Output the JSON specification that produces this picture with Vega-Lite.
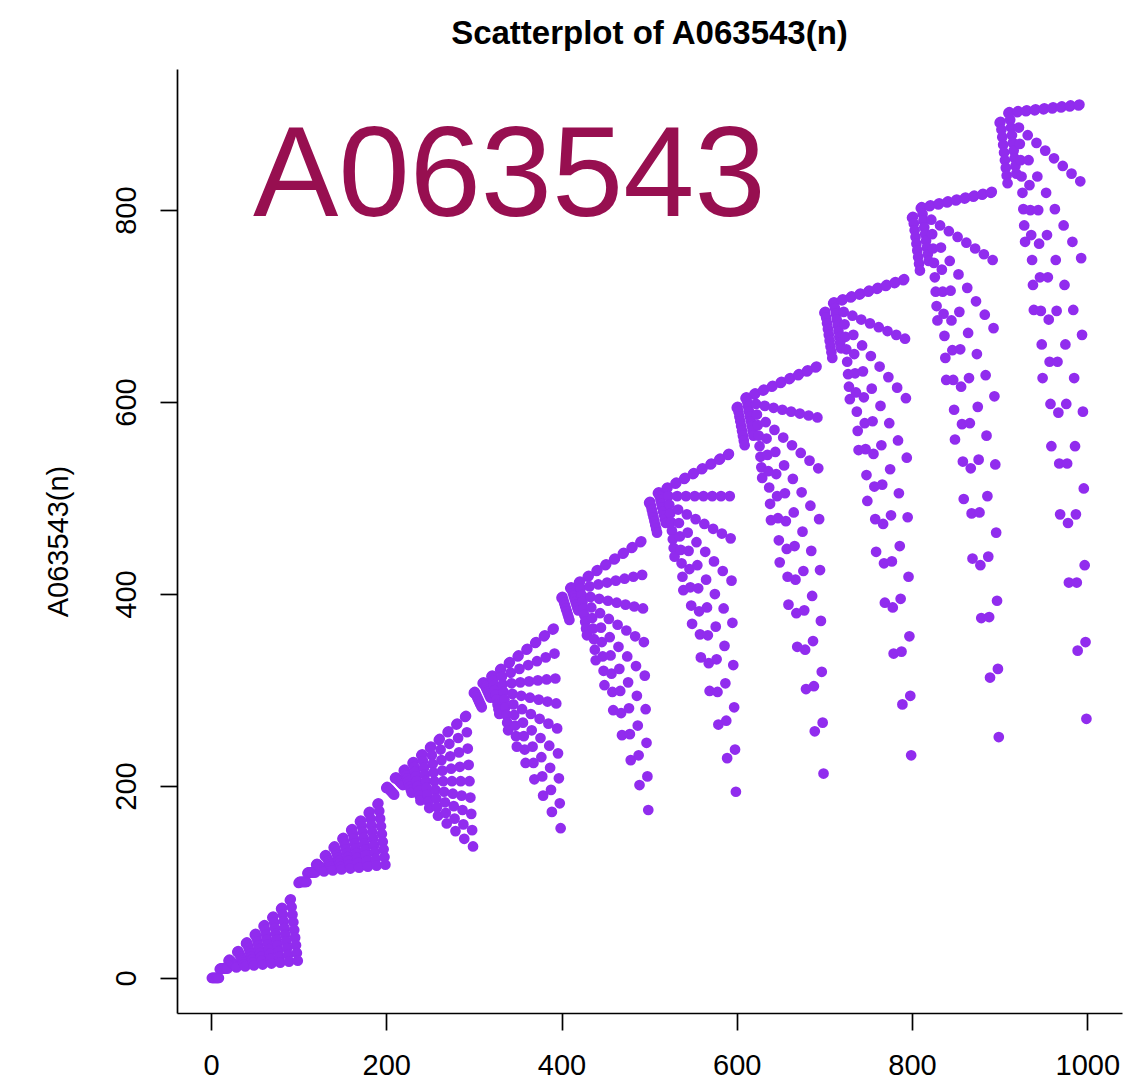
{"$schema":"https://vega.github.io/schema/vega-lite/v6.json","width":945,"height":944,"autosize":{"type":"none"},"padding":{"left":177,"top":69,"right":1,"bottom":65},"background":"white","config":{"view":{"stroke":null},"font":"Liberation Sans"},"title":{"text":"Scatterplot of A063543(n)","font":"Liberation Sans","fontWeight":"bold","fontSize":33,"color":"black","anchor":"middle","offset":18},
"layer":[{"data":{"values":[
{"n":1,"a":0},{"n":2,"a":0},{"n":3,"a":0},{"n":4,"a":0},{"n":5,"a":0},{"n":6,"a":0},{"n":7,"a":0},{"n":8,"a":0},{"n":9,"a":0},
{"n":10,"a":9},{"n":11,"a":10},{"n":12,"a":10},{"n":13,"a":10},{"n":14,"a":10},{"n":15,"a":10},{"n":16,"a":10},{"n":17,"a":10},{"n":18,"a":10},{"n":19,"a":10},
{"n":20,"a":18},{"n":21,"a":19},{"n":22,"a":18},{"n":23,"a":17},{"n":24,"a":16},{"n":25,"a":15},{"n":26,"a":14},{"n":27,"a":13},{"n":28,"a":12},{"n":29,"a":11},
{"n":30,"a":27},{"n":31,"a":28},{"n":32,"a":26},{"n":33,"a":24},{"n":34,"a":22},{"n":35,"a":20},{"n":36,"a":18},{"n":37,"a":16},{"n":38,"a":14},{"n":39,"a":12},
{"n":40,"a":36},{"n":41,"a":37},{"n":42,"a":34},{"n":43,"a":31},{"n":44,"a":28},{"n":45,"a":25},{"n":46,"a":22},{"n":47,"a":19},{"n":48,"a":16},{"n":49,"a":13},
{"n":50,"a":45},{"n":51,"a":46},{"n":52,"a":42},{"n":53,"a":38},{"n":54,"a":34},{"n":55,"a":30},{"n":56,"a":26},{"n":57,"a":22},{"n":58,"a":18},{"n":59,"a":14},
{"n":60,"a":54},{"n":61,"a":55},{"n":62,"a":50},{"n":63,"a":45},{"n":64,"a":40},{"n":65,"a":35},{"n":66,"a":30},{"n":67,"a":25},{"n":68,"a":20},{"n":69,"a":15},
{"n":70,"a":63},{"n":71,"a":64},{"n":72,"a":58},{"n":73,"a":52},{"n":74,"a":46},{"n":75,"a":40},{"n":76,"a":34},{"n":77,"a":28},{"n":78,"a":22},{"n":79,"a":16},
{"n":80,"a":72},{"n":81,"a":73},{"n":82,"a":66},{"n":83,"a":59},{"n":84,"a":52},{"n":85,"a":45},{"n":86,"a":38},{"n":87,"a":31},{"n":88,"a":24},{"n":89,"a":17},
{"n":90,"a":81},{"n":91,"a":82},{"n":92,"a":74},{"n":93,"a":66},{"n":94,"a":58},{"n":95,"a":50},{"n":96,"a":42},{"n":97,"a":34},{"n":98,"a":26},{"n":99,"a":18},
{"n":100,"a":99},{"n":101,"a":100},{"n":102,"a":100},{"n":103,"a":100},{"n":104,"a":100},{"n":105,"a":100},{"n":106,"a":100},{"n":107,"a":100},{"n":108,"a":100},{"n":109,"a":100},
{"n":110,"a":109},{"n":111,"a":110},{"n":112,"a":110},{"n":113,"a":110},{"n":114,"a":110},{"n":115,"a":110},{"n":116,"a":110},{"n":117,"a":110},{"n":118,"a":110},{"n":119,"a":110},
{"n":120,"a":118},{"n":121,"a":119},{"n":122,"a":118},{"n":123,"a":117},{"n":124,"a":116},{"n":125,"a":115},{"n":126,"a":114},{"n":127,"a":113},{"n":128,"a":112},{"n":129,"a":111},
{"n":130,"a":127},{"n":131,"a":128},{"n":132,"a":126},{"n":133,"a":124},{"n":134,"a":122},{"n":135,"a":120},{"n":136,"a":118},{"n":137,"a":116},{"n":138,"a":114},{"n":139,"a":112},
{"n":140,"a":136},{"n":141,"a":137},{"n":142,"a":134},{"n":143,"a":131},{"n":144,"a":128},{"n":145,"a":125},{"n":146,"a":122},{"n":147,"a":119},{"n":148,"a":116},{"n":149,"a":113},
{"n":150,"a":145},{"n":151,"a":146},{"n":152,"a":142},{"n":153,"a":138},{"n":154,"a":134},{"n":155,"a":130},{"n":156,"a":126},{"n":157,"a":122},{"n":158,"a":118},{"n":159,"a":114},
{"n":160,"a":154},{"n":161,"a":155},{"n":162,"a":150},{"n":163,"a":145},{"n":164,"a":140},{"n":165,"a":135},{"n":166,"a":130},{"n":167,"a":125},{"n":168,"a":120},{"n":169,"a":115},
{"n":170,"a":163},{"n":171,"a":164},{"n":172,"a":158},{"n":173,"a":152},{"n":174,"a":146},{"n":175,"a":140},{"n":176,"a":134},{"n":177,"a":128},{"n":178,"a":122},{"n":179,"a":116},
{"n":180,"a":172},{"n":181,"a":173},{"n":182,"a":166},{"n":183,"a":159},{"n":184,"a":152},{"n":185,"a":145},{"n":186,"a":138},{"n":187,"a":131},{"n":188,"a":124},{"n":189,"a":117},
{"n":190,"a":181},{"n":191,"a":182},{"n":192,"a":174},{"n":193,"a":166},{"n":194,"a":158},{"n":195,"a":150},{"n":196,"a":142},{"n":197,"a":134},{"n":198,"a":126},{"n":199,"a":118},
{"n":200,"a":198},{"n":201,"a":199},{"n":202,"a":198},{"n":203,"a":197},{"n":204,"a":196},{"n":205,"a":195},{"n":206,"a":194},{"n":207,"a":193},{"n":208,"a":192},{"n":209,"a":191},
{"n":210,"a":208},{"n":211,"a":209},{"n":212,"a":208},{"n":213,"a":207},{"n":214,"a":206},{"n":215,"a":205},{"n":216,"a":204},{"n":217,"a":203},{"n":218,"a":202},{"n":219,"a":201},
{"n":220,"a":216},{"n":221,"a":217},{"n":222,"a":214},{"n":223,"a":211},{"n":224,"a":208},{"n":225,"a":205},{"n":226,"a":202},{"n":227,"a":199},{"n":228,"a":196},{"n":229,"a":193},
{"n":230,"a":224},{"n":231,"a":225},{"n":232,"a":220},{"n":233,"a":215},{"n":234,"a":210},{"n":235,"a":205},{"n":236,"a":200},{"n":237,"a":195},{"n":238,"a":190},{"n":239,"a":185},
{"n":240,"a":232},{"n":241,"a":233},{"n":242,"a":226},{"n":243,"a":219},{"n":244,"a":212},{"n":245,"a":205},{"n":246,"a":198},{"n":247,"a":191},{"n":248,"a":184},{"n":249,"a":177},
{"n":250,"a":240},{"n":251,"a":241},{"n":252,"a":232},{"n":253,"a":223},{"n":254,"a":214},{"n":255,"a":205},{"n":256,"a":196},{"n":257,"a":187},{"n":258,"a":178},{"n":259,"a":169},
{"n":260,"a":248},{"n":261,"a":249},{"n":262,"a":238},{"n":263,"a":227},{"n":264,"a":216},{"n":265,"a":205},{"n":266,"a":194},{"n":267,"a":183},{"n":268,"a":172},{"n":269,"a":161},
{"n":270,"a":256},{"n":271,"a":257},{"n":272,"a":244},{"n":273,"a":231},{"n":274,"a":218},{"n":275,"a":205},{"n":276,"a":192},{"n":277,"a":179},{"n":278,"a":166},{"n":279,"a":153},
{"n":280,"a":264},{"n":281,"a":265},{"n":282,"a":250},{"n":283,"a":235},{"n":284,"a":220},{"n":285,"a":205},{"n":286,"a":190},{"n":287,"a":175},{"n":288,"a":160},{"n":289,"a":145},
{"n":290,"a":272},{"n":291,"a":273},{"n":292,"a":256},{"n":293,"a":239},{"n":294,"a":222},{"n":295,"a":205},{"n":296,"a":188},{"n":297,"a":171},{"n":298,"a":154},{"n":299,"a":137},
{"n":300,"a":297},{"n":301,"a":298},{"n":302,"a":296},{"n":303,"a":294},{"n":304,"a":292},{"n":305,"a":290},{"n":306,"a":288},{"n":307,"a":286},{"n":308,"a":284},{"n":309,"a":282},
{"n":310,"a":307},{"n":311,"a":308},{"n":312,"a":306},{"n":313,"a":304},{"n":314,"a":302},{"n":315,"a":300},{"n":316,"a":298},{"n":317,"a":296},{"n":318,"a":294},{"n":319,"a":292},
{"n":320,"a":314},{"n":321,"a":315},{"n":322,"a":310},{"n":323,"a":305},{"n":324,"a":300},{"n":325,"a":295},{"n":326,"a":290},{"n":327,"a":285},{"n":328,"a":280},{"n":329,"a":275},
{"n":330,"a":321},{"n":331,"a":322},{"n":332,"a":314},{"n":333,"a":306},{"n":334,"a":298},{"n":335,"a":290},{"n":336,"a":282},{"n":337,"a":274},{"n":338,"a":266},{"n":339,"a":258},
{"n":340,"a":328},{"n":341,"a":329},{"n":342,"a":318},{"n":343,"a":307},{"n":344,"a":296},{"n":345,"a":285},{"n":346,"a":274},{"n":347,"a":263},{"n":348,"a":252},{"n":349,"a":241},
{"n":350,"a":335},{"n":351,"a":336},{"n":352,"a":322},{"n":353,"a":308},{"n":354,"a":294},{"n":355,"a":280},{"n":356,"a":266},{"n":357,"a":252},{"n":358,"a":238},{"n":359,"a":224},
{"n":360,"a":342},{"n":361,"a":343},{"n":362,"a":326},{"n":363,"a":309},{"n":364,"a":292},{"n":365,"a":275},{"n":366,"a":258},{"n":367,"a":241},{"n":368,"a":224},{"n":369,"a":207},
{"n":370,"a":349},{"n":371,"a":350},{"n":372,"a":330},{"n":373,"a":310},{"n":374,"a":290},{"n":375,"a":270},{"n":376,"a":250},{"n":377,"a":230},{"n":378,"a":210},{"n":379,"a":190},
{"n":380,"a":356},{"n":381,"a":357},{"n":382,"a":334},{"n":383,"a":311},{"n":384,"a":288},{"n":385,"a":265},{"n":386,"a":242},{"n":387,"a":219},{"n":388,"a":196},{"n":389,"a":173},
{"n":390,"a":363},{"n":391,"a":364},{"n":392,"a":338},{"n":393,"a":312},{"n":394,"a":286},{"n":395,"a":260},{"n":396,"a":234},{"n":397,"a":208},{"n":398,"a":182},{"n":399,"a":156},
{"n":400,"a":396},{"n":401,"a":397},{"n":402,"a":394},{"n":403,"a":391},{"n":404,"a":388},{"n":405,"a":385},{"n":406,"a":382},{"n":407,"a":379},{"n":408,"a":376},{"n":409,"a":373},
{"n":410,"a":406},{"n":411,"a":407},{"n":412,"a":404},{"n":413,"a":401},{"n":414,"a":398},{"n":415,"a":395},{"n":416,"a":392},{"n":417,"a":389},{"n":418,"a":386},{"n":419,"a":383},
{"n":420,"a":412},{"n":421,"a":413},{"n":422,"a":406},{"n":423,"a":399},{"n":424,"a":392},{"n":425,"a":385},{"n":426,"a":378},{"n":427,"a":371},{"n":428,"a":364},{"n":429,"a":357},
{"n":430,"a":418},{"n":431,"a":419},{"n":432,"a":408},{"n":433,"a":397},{"n":434,"a":386},{"n":435,"a":375},{"n":436,"a":364},{"n":437,"a":353},{"n":438,"a":342},{"n":439,"a":331},
{"n":440,"a":424},{"n":441,"a":425},{"n":442,"a":410},{"n":443,"a":395},{"n":444,"a":380},{"n":445,"a":365},{"n":446,"a":350},{"n":447,"a":335},{"n":448,"a":320},{"n":449,"a":305},
{"n":450,"a":430},{"n":451,"a":431},{"n":452,"a":412},{"n":453,"a":393},{"n":454,"a":374},{"n":455,"a":355},{"n":456,"a":336},{"n":457,"a":317},{"n":458,"a":298},{"n":459,"a":279},
{"n":460,"a":436},{"n":461,"a":437},{"n":462,"a":414},{"n":463,"a":391},{"n":464,"a":368},{"n":465,"a":345},{"n":466,"a":322},{"n":467,"a":299},{"n":468,"a":276},{"n":469,"a":253},
{"n":470,"a":442},{"n":471,"a":443},{"n":472,"a":416},{"n":473,"a":389},{"n":474,"a":362},{"n":475,"a":335},{"n":476,"a":308},{"n":477,"a":281},{"n":478,"a":254},{"n":479,"a":227},
{"n":480,"a":448},{"n":481,"a":449},{"n":482,"a":418},{"n":483,"a":387},{"n":484,"a":356},{"n":485,"a":325},{"n":486,"a":294},{"n":487,"a":263},{"n":488,"a":232},{"n":489,"a":201},
{"n":490,"a":454},{"n":491,"a":455},{"n":492,"a":420},{"n":493,"a":385},{"n":494,"a":350},{"n":495,"a":315},{"n":496,"a":280},{"n":497,"a":245},{"n":498,"a":210},{"n":499,"a":175},
{"n":500,"a":495},{"n":501,"a":496},{"n":502,"a":492},{"n":503,"a":488},{"n":504,"a":484},{"n":505,"a":480},{"n":506,"a":476},{"n":507,"a":472},{"n":508,"a":468},{"n":509,"a":464},
{"n":510,"a":505},{"n":511,"a":506},{"n":512,"a":502},{"n":513,"a":498},{"n":514,"a":494},{"n":515,"a":490},{"n":516,"a":486},{"n":517,"a":482},{"n":518,"a":478},{"n":519,"a":474},
{"n":520,"a":510},{"n":521,"a":511},{"n":522,"a":502},{"n":523,"a":493},{"n":524,"a":484},{"n":525,"a":475},{"n":526,"a":466},{"n":527,"a":457},{"n":528,"a":448},{"n":529,"a":439},
{"n":530,"a":515},{"n":531,"a":516},{"n":532,"a":502},{"n":533,"a":488},{"n":534,"a":474},{"n":535,"a":460},{"n":536,"a":446},{"n":537,"a":432},{"n":538,"a":418},{"n":539,"a":404},
{"n":540,"a":520},{"n":541,"a":521},{"n":542,"a":502},{"n":543,"a":483},{"n":544,"a":464},{"n":545,"a":445},{"n":546,"a":426},{"n":547,"a":407},{"n":548,"a":388},{"n":549,"a":369},
{"n":550,"a":525},{"n":551,"a":526},{"n":552,"a":502},{"n":553,"a":478},{"n":554,"a":454},{"n":555,"a":430},{"n":556,"a":406},{"n":557,"a":382},{"n":558,"a":358},{"n":559,"a":334},
{"n":560,"a":530},{"n":561,"a":531},{"n":562,"a":502},{"n":563,"a":473},{"n":564,"a":444},{"n":565,"a":415},{"n":566,"a":386},{"n":567,"a":357},{"n":568,"a":328},{"n":569,"a":299},
{"n":570,"a":535},{"n":571,"a":536},{"n":572,"a":502},{"n":573,"a":468},{"n":574,"a":434},{"n":575,"a":400},{"n":576,"a":366},{"n":577,"a":332},{"n":578,"a":298},{"n":579,"a":264},
{"n":580,"a":540},{"n":581,"a":541},{"n":582,"a":502},{"n":583,"a":463},{"n":584,"a":424},{"n":585,"a":385},{"n":586,"a":346},{"n":587,"a":307},{"n":588,"a":268},{"n":589,"a":229},
{"n":590,"a":545},{"n":591,"a":546},{"n":592,"a":502},{"n":593,"a":458},{"n":594,"a":414},{"n":595,"a":370},{"n":596,"a":326},{"n":597,"a":282},{"n":598,"a":238},{"n":599,"a":194},
{"n":600,"a":594},{"n":601,"a":595},{"n":602,"a":590},{"n":603,"a":585},{"n":604,"a":580},{"n":605,"a":575},{"n":606,"a":570},{"n":607,"a":565},{"n":608,"a":560},{"n":609,"a":555},
{"n":610,"a":604},{"n":611,"a":605},{"n":612,"a":600},{"n":613,"a":595},{"n":614,"a":590},{"n":615,"a":585},{"n":616,"a":580},{"n":617,"a":575},{"n":618,"a":570},{"n":619,"a":565},
{"n":620,"a":608},{"n":621,"a":609},{"n":622,"a":598},{"n":623,"a":587},{"n":624,"a":576},{"n":625,"a":565},{"n":626,"a":554},{"n":627,"a":543},{"n":628,"a":532},{"n":629,"a":521},
{"n":630,"a":612},{"n":631,"a":613},{"n":632,"a":596},{"n":633,"a":579},{"n":634,"a":562},{"n":635,"a":545},{"n":636,"a":528},{"n":637,"a":511},{"n":638,"a":494},{"n":639,"a":477},
{"n":640,"a":616},{"n":641,"a":617},{"n":642,"a":594},{"n":643,"a":571},{"n":644,"a":548},{"n":645,"a":525},{"n":646,"a":502},{"n":647,"a":479},{"n":648,"a":456},{"n":649,"a":433},
{"n":650,"a":620},{"n":651,"a":621},{"n":652,"a":592},{"n":653,"a":563},{"n":654,"a":534},{"n":655,"a":505},{"n":656,"a":476},{"n":657,"a":447},{"n":658,"a":418},{"n":659,"a":389},
{"n":660,"a":624},{"n":661,"a":625},{"n":662,"a":590},{"n":663,"a":555},{"n":664,"a":520},{"n":665,"a":485},{"n":666,"a":450},{"n":667,"a":415},{"n":668,"a":380},{"n":669,"a":345},
{"n":670,"a":628},{"n":671,"a":629},{"n":672,"a":588},{"n":673,"a":547},{"n":674,"a":506},{"n":675,"a":465},{"n":676,"a":424},{"n":677,"a":383},{"n":678,"a":342},{"n":679,"a":301},
{"n":680,"a":632},{"n":681,"a":633},{"n":682,"a":586},{"n":683,"a":539},{"n":684,"a":492},{"n":685,"a":445},{"n":686,"a":398},{"n":687,"a":351},{"n":688,"a":304},{"n":689,"a":257},
{"n":690,"a":636},{"n":691,"a":637},{"n":692,"a":584},{"n":693,"a":531},{"n":694,"a":478},{"n":695,"a":425},{"n":696,"a":372},{"n":697,"a":319},{"n":698,"a":266},{"n":699,"a":213},
{"n":700,"a":693},{"n":701,"a":694},{"n":702,"a":688},{"n":703,"a":682},{"n":704,"a":676},{"n":705,"a":670},{"n":706,"a":664},{"n":707,"a":658},{"n":708,"a":652},{"n":709,"a":646},
{"n":710,"a":703},{"n":711,"a":704},{"n":712,"a":698},{"n":713,"a":692},{"n":714,"a":686},{"n":715,"a":680},{"n":716,"a":674},{"n":717,"a":668},{"n":718,"a":662},{"n":719,"a":656},
{"n":720,"a":706},{"n":721,"a":707},{"n":722,"a":694},{"n":723,"a":681},{"n":724,"a":668},{"n":725,"a":655},{"n":726,"a":642},{"n":727,"a":629},{"n":728,"a":616},{"n":729,"a":603},
{"n":730,"a":709},{"n":731,"a":710},{"n":732,"a":690},{"n":733,"a":670},{"n":734,"a":650},{"n":735,"a":630},{"n":736,"a":610},{"n":737,"a":590},{"n":738,"a":570},{"n":739,"a":550},
{"n":740,"a":712},{"n":741,"a":713},{"n":742,"a":686},{"n":743,"a":659},{"n":744,"a":632},{"n":745,"a":605},{"n":746,"a":578},{"n":747,"a":551},{"n":748,"a":524},{"n":749,"a":497},
{"n":750,"a":715},{"n":751,"a":716},{"n":752,"a":682},{"n":753,"a":648},{"n":754,"a":614},{"n":755,"a":580},{"n":756,"a":546},{"n":757,"a":512},{"n":758,"a":478},{"n":759,"a":444},
{"n":760,"a":718},{"n":761,"a":719},{"n":762,"a":678},{"n":763,"a":637},{"n":764,"a":596},{"n":765,"a":555},{"n":766,"a":514},{"n":767,"a":473},{"n":768,"a":432},{"n":769,"a":391},
{"n":770,"a":721},{"n":771,"a":722},{"n":772,"a":674},{"n":773,"a":626},{"n":774,"a":578},{"n":775,"a":530},{"n":776,"a":482},{"n":777,"a":434},{"n":778,"a":386},{"n":779,"a":338},
{"n":780,"a":724},{"n":781,"a":725},{"n":782,"a":670},{"n":783,"a":615},{"n":784,"a":560},{"n":785,"a":505},{"n":786,"a":450},{"n":787,"a":395},{"n":788,"a":340},{"n":789,"a":285},
{"n":790,"a":727},{"n":791,"a":728},{"n":792,"a":666},{"n":793,"a":604},{"n":794,"a":542},{"n":795,"a":480},{"n":796,"a":418},{"n":797,"a":356},{"n":798,"a":294},{"n":799,"a":232},
{"n":800,"a":792},{"n":801,"a":793},{"n":802,"a":786},{"n":803,"a":779},{"n":804,"a":772},{"n":805,"a":765},{"n":806,"a":758},{"n":807,"a":751},{"n":808,"a":744},{"n":809,"a":737},
{"n":810,"a":802},{"n":811,"a":803},{"n":812,"a":796},{"n":813,"a":789},{"n":814,"a":782},{"n":815,"a":775},{"n":816,"a":768},{"n":817,"a":761},{"n":818,"a":754},{"n":819,"a":747},
{"n":820,"a":804},{"n":821,"a":805},{"n":822,"a":790},{"n":823,"a":775},{"n":824,"a":760},{"n":825,"a":745},{"n":826,"a":730},{"n":827,"a":715},{"n":828,"a":700},{"n":829,"a":685},
{"n":830,"a":806},{"n":831,"a":807},{"n":832,"a":784},{"n":833,"a":761},{"n":834,"a":738},{"n":835,"a":715},{"n":836,"a":692},{"n":837,"a":669},{"n":838,"a":646},{"n":839,"a":623},
{"n":840,"a":808},{"n":841,"a":809},{"n":842,"a":778},{"n":843,"a":747},{"n":844,"a":716},{"n":845,"a":685},{"n":846,"a":654},{"n":847,"a":623},{"n":848,"a":592},{"n":849,"a":561},
{"n":850,"a":810},{"n":851,"a":811},{"n":852,"a":772},{"n":853,"a":733},{"n":854,"a":694},{"n":855,"a":655},{"n":856,"a":616},{"n":857,"a":577},{"n":858,"a":538},{"n":859,"a":499},
{"n":860,"a":812},{"n":861,"a":813},{"n":862,"a":766},{"n":863,"a":719},{"n":864,"a":672},{"n":865,"a":625},{"n":866,"a":578},{"n":867,"a":531},{"n":868,"a":484},{"n":869,"a":437},
{"n":870,"a":814},{"n":871,"a":815},{"n":872,"a":760},{"n":873,"a":705},{"n":874,"a":650},{"n":875,"a":595},{"n":876,"a":540},{"n":877,"a":485},{"n":878,"a":430},{"n":879,"a":375},
{"n":880,"a":816},{"n":881,"a":817},{"n":882,"a":754},{"n":883,"a":691},{"n":884,"a":628},{"n":885,"a":565},{"n":886,"a":502},{"n":887,"a":439},{"n":888,"a":376},{"n":889,"a":313},
{"n":890,"a":818},{"n":891,"a":819},{"n":892,"a":748},{"n":893,"a":677},{"n":894,"a":606},{"n":895,"a":535},{"n":896,"a":464},{"n":897,"a":393},{"n":898,"a":322},{"n":899,"a":251},
{"n":900,"a":891},{"n":901,"a":892},{"n":902,"a":884},{"n":903,"a":876},{"n":904,"a":868},{"n":905,"a":860},{"n":906,"a":852},{"n":907,"a":844},{"n":908,"a":836},{"n":909,"a":828},
{"n":910,"a":901},{"n":911,"a":902},{"n":912,"a":894},{"n":913,"a":886},{"n":914,"a":878},{"n":915,"a":870},{"n":916,"a":862},{"n":917,"a":854},{"n":918,"a":846},{"n":919,"a":838},
{"n":920,"a":902},{"n":921,"a":903},{"n":922,"a":886},{"n":923,"a":869},{"n":924,"a":852},{"n":925,"a":835},{"n":926,"a":818},{"n":927,"a":801},{"n":928,"a":784},{"n":929,"a":767},
{"n":930,"a":903},{"n":931,"a":904},{"n":932,"a":878},{"n":933,"a":852},{"n":934,"a":826},{"n":935,"a":800},{"n":936,"a":774},{"n":937,"a":748},{"n":938,"a":722},{"n":939,"a":696},
{"n":940,"a":904},{"n":941,"a":905},{"n":942,"a":870},{"n":943,"a":835},{"n":944,"a":800},{"n":945,"a":765},{"n":946,"a":730},{"n":947,"a":695},{"n":948,"a":660},{"n":949,"a":625},
{"n":950,"a":905},{"n":951,"a":906},{"n":952,"a":862},{"n":953,"a":818},{"n":954,"a":774},{"n":955,"a":730},{"n":956,"a":686},{"n":957,"a":642},{"n":958,"a":598},{"n":959,"a":554},
{"n":960,"a":906},{"n":961,"a":907},{"n":962,"a":854},{"n":963,"a":801},{"n":964,"a":748},{"n":965,"a":695},{"n":966,"a":642},{"n":967,"a":589},{"n":968,"a":536},{"n":969,"a":483},
{"n":970,"a":907},{"n":971,"a":908},{"n":972,"a":846},{"n":973,"a":784},{"n":974,"a":722},{"n":975,"a":660},{"n":976,"a":598},{"n":977,"a":536},{"n":978,"a":474},{"n":979,"a":412},
{"n":980,"a":908},{"n":981,"a":909},{"n":982,"a":838},{"n":983,"a":767},{"n":984,"a":696},{"n":985,"a":625},{"n":986,"a":554},{"n":987,"a":483},{"n":988,"a":412},{"n":989,"a":341},
{"n":990,"a":909},{"n":991,"a":910},{"n":992,"a":830},{"n":993,"a":750},{"n":994,"a":670},{"n":995,"a":590},{"n":996,"a":510},{"n":997,"a":430},{"n":998,"a":350},{"n":999,"a":270}
]},"mark":{"type":"point","filled":true,"opacity":1,"size":115,"color":"#912CEE"},"encoding":{"x":{"field":"n","type":"quantitative","scale":{"domain":[-38.8,1039.6],"nice":false,"zero":false},"axis":{"values":[0,200,400,600,800,1000],"format":"d","grid":false,"title":null,"domainColor":"black","domainWidth":1.7,"tickColor":"black","tickWidth":1.7,"tickSize":17,"labelFont":"Liberation Sans","labelFontSize":29,"labelColor":"black","labelPadding":21,"labelFlush":false,"labelOverlap":false}},"y":{"field":"a","type":"quantitative","scale":{"domain":[-36.5,947],"nice":false,"zero":false},"axis":{"values":[0,200,400,600,800],"format":"d","grid":false,"title":"A063543(n)","titleFont":"Liberation Sans","titleFontSize":29,"titleFontWeight":"normal","titleColor":"black","titlePadding":39,"domainColor":"black","domainWidth":1.7,"tickColor":"black","tickWidth":1.7,"tickSize":17,"labelFont":"Liberation Sans","labelFontSize":29,"labelColor":"black","labelAngle":-90,"labelAlign":"center","labelBaseline":"bottom","labelPadding":19,"labelFlush":false,"labelOverlap":false}}}},
{"data":{"values":[{"n":48,"a":794,"label":"A063543"}]},"mark":{"type":"text","font":"Liberation Sans","fontSize":128,"color":"#970F50","align":"left","baseline":"alphabetic"},"encoding":{"x":{"field":"n","type":"quantitative"},"y":{"field":"a","type":"quantitative"},"text":{"field":"label","type":"nominal"}}}]}
